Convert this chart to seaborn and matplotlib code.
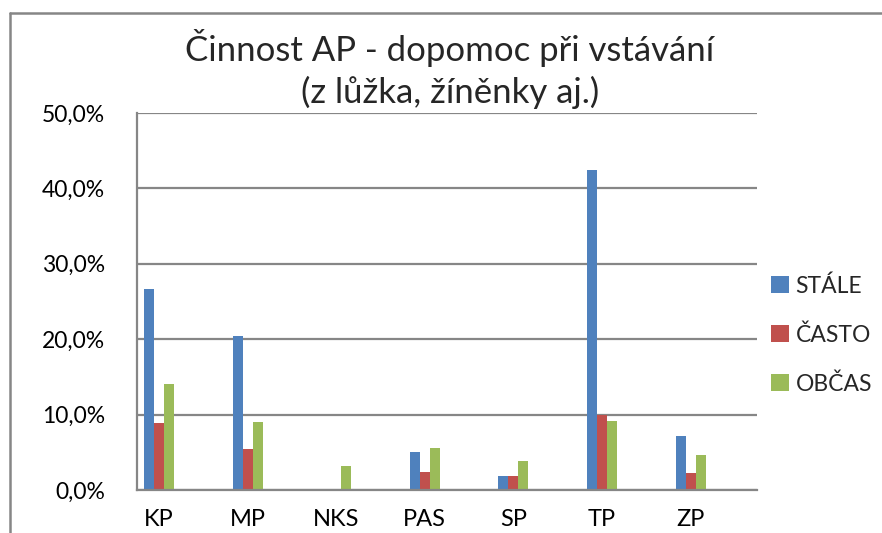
import pandas as pd
import matplotlib

matplotlib.use("Agg")
import matplotlib.pyplot as plt
import seaborn as sns
from matplotlib.lines import Line2D
from matplotlib.ticker import FixedLocator, FuncFormatter

# --- data (shares) ---
categories = ["KP", "MP", "NKS", "PAS", "SP", "TP", "ZP"]
series = ["STÁLE", "ČASTO", "OBČAS"]
stale = [0.267, 0.204, 0.0, 0.051, 0.019, 0.425, 0.071]
casto = [0.089, 0.054, 0.0, 0.024, 0.019, 0.099, 0.023]
obcas = [0.140, 0.090, 0.032, 0.056, 0.039, 0.092, 0.047]
colors = ["#4F81BD", "#C0504D", "#9BBB59"]
title = "Činnost AP - dopomoc při vstávání\n(z lůžka, žíněnky aj.)"

df = pd.DataFrame({"kategorie": categories, "STÁLE": stale, "ČASTO": casto, "OBČAS": obcas})
long_df = df.melt(id_vars="kategorie", var_name="frekvence", value_name="podil")

# Excel left an empty slot after every category
slots = []
for c in categories:
    slots += [c, c + "_"]

sns.set_theme(style="white")
plt.rcParams["font.family"] = ["Lato", "DejaVu Sans"]
grid_c = "#868686"

fig = plt.figure(figsize=(8.82, 5.33), dpi=100)
ax = fig.add_axes([137 / 882, 1 - 490 / 533, 620 / 882, 377 / 533])

sns.barplot(
    data=long_df, x="kategorie", y="podil", hue="frekvence",
    order=slots, hue_order=series, palette=colors,
    width=0.68, gap=0, saturation=1, linewidth=0, edgecolor="none",
    ax=ax, legend=True,
)

ax.set_xlim(-0.5, len(slots) - 0.5)
ax.set_ylim(0, 0.5)
ax.set_yticks([0, 0.1, 0.2, 0.3, 0.4, 0.5])
ax.yaxis.set_major_formatter(FuncFormatter(lambda v, _: f"{v * 100:.1f}%".replace(".", ",")))
ax.yaxis.grid(True, color=grid_c, linewidth=1.6)
ax.set_axisbelow(True)

# tick marks between slots, labels under the filled ones
ax.xaxis.set_major_locator(FixedLocator([i - 0.5 for i in range(len(slots) + 1)]))
ax.xaxis.set_minor_locator(FixedLocator(list(range(0, len(slots), 2))))
ax.set_xticklabels([], minor=False)
ax.set_xticklabels(categories, minor=True)
ax.tick_params(axis="x", which="major", length=8, width=1.6, color=grid_c, direction="out")
ax.tick_params(axis="x", which="minor", length=0, pad=14, labelsize=17, labelcolor="black")
ax.tick_params(axis="y", length=8, width=1.6, color=grid_c, direction="out", pad=15,
               labelsize=16.5, labelcolor="black")
ax.set_xlabel("")
ax.set_ylabel("")

for side in ["top", "right"]:
    ax.spines[side].set_visible(False)
for side in ["left", "bottom"]:
    ax.spines[side].set_color(grid_c)
    ax.spines[side].set_linewidth(1.6)

leg = ax.legend(
    loc="center left", bbox_to_anchor=(0.99, 0.411), frameon=False,
    fontsize=16.5, handlelength=0.75, handleheight=0.75, handletextpad=0.3,
    labelspacing=1.2,
)

fig.text(450 / 882, 1 - 69 / 533, title, ha="center", va="center",
         fontsize=25, linespacing=1.3)

# chart area border (cut by the screenshot at right and bottom)
fig.add_artist(Line2D([10 / 882, 1.0], [1 - 13 / 533, 1 - 13 / 533], color=grid_c, linewidth=1.8))
fig.add_artist(Line2D([10 / 882, 10 / 882], [1 - 13 / 533, 0.0], color=grid_c, linewidth=1.8))

fig.savefig("out.png", dpi=100)
plt.close(fig)
